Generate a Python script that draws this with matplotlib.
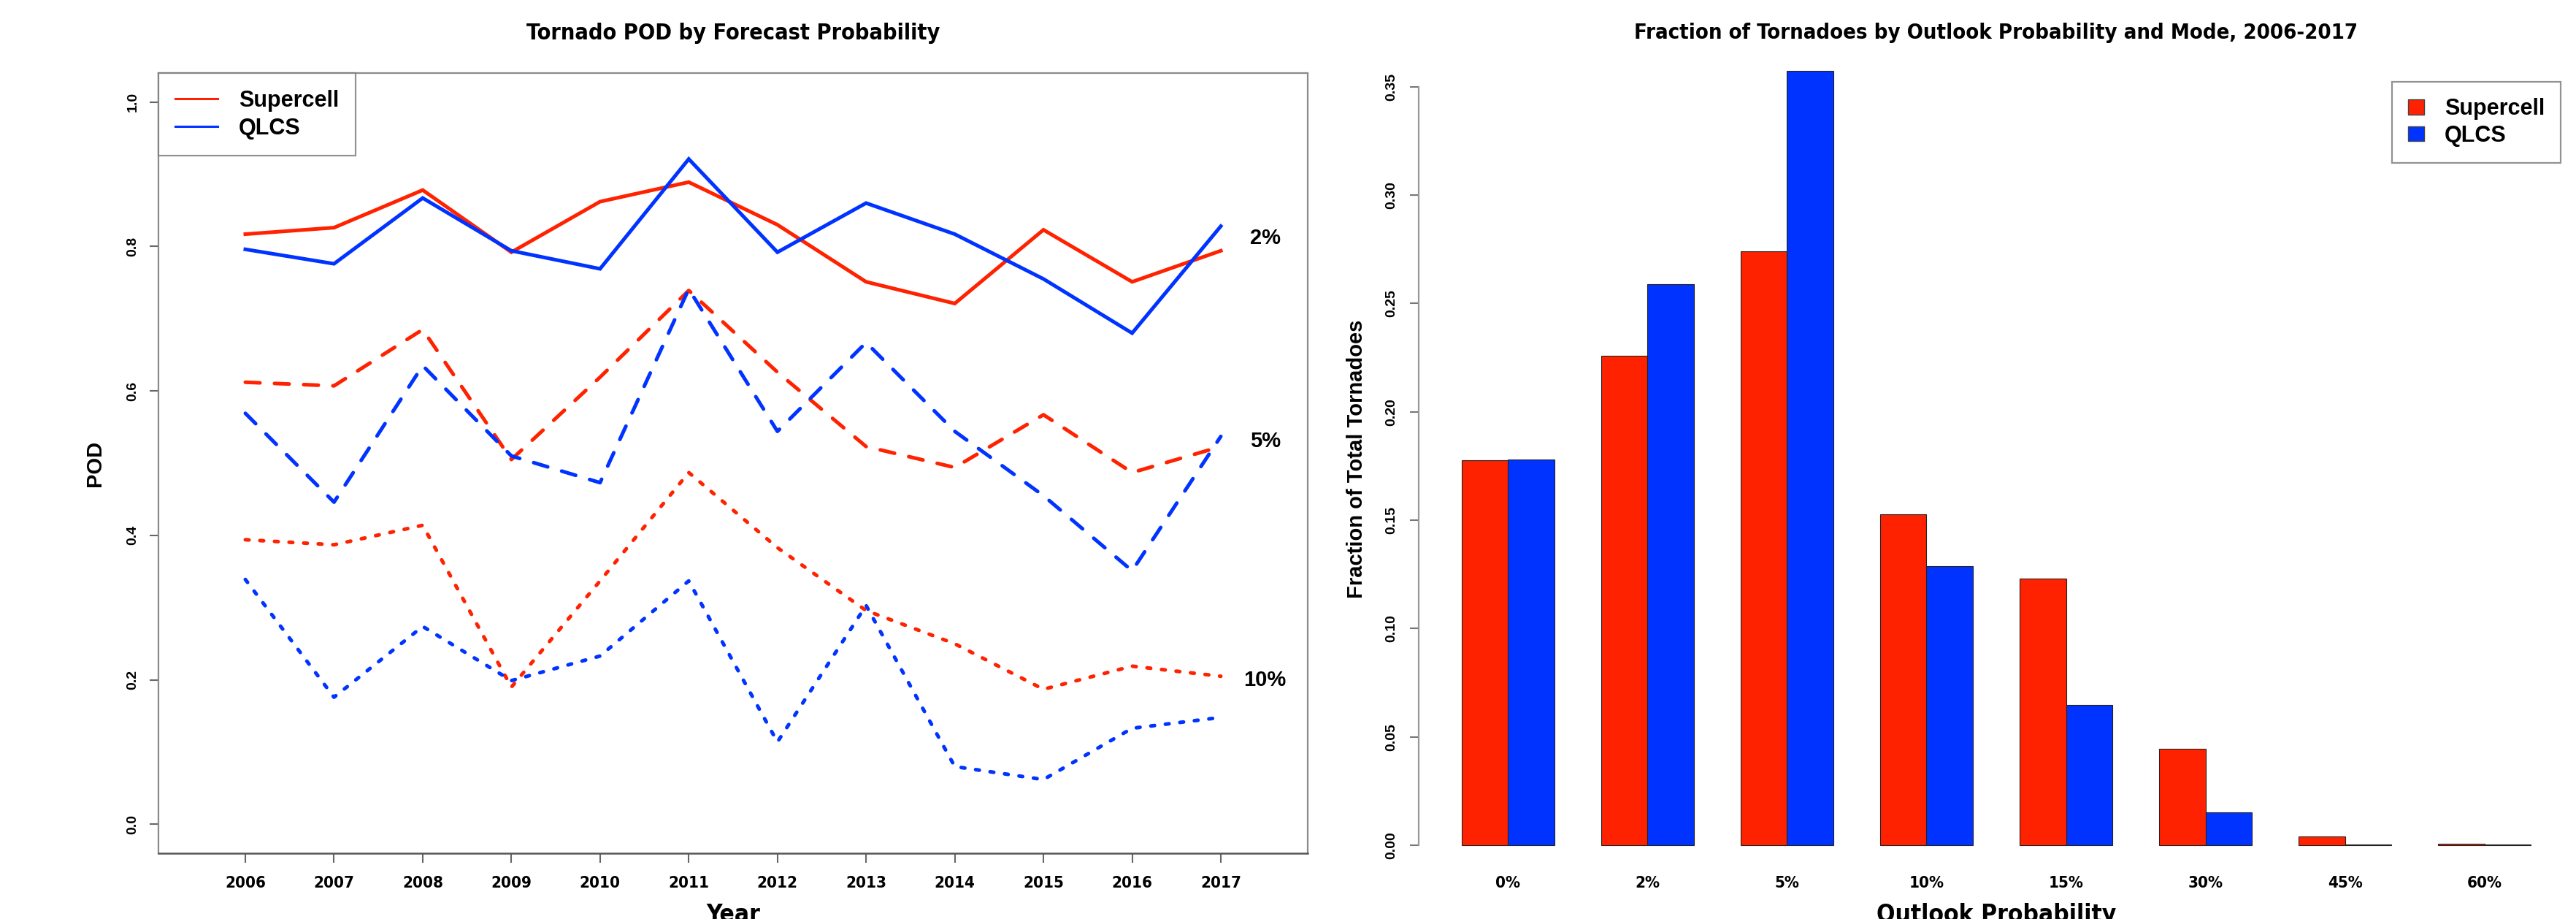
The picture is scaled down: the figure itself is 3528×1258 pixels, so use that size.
import matplotlib.pyplot as plt
import numpy as np
from matplotlib.patches import Patch
from matplotlib.lines import Line2D

# POD per year for the 2%, 5% and 10% forecast contours
years = list(range(2006, 2018))
sup_2 = [0.817, 0.826, 0.878, 0.792, 0.862, 0.889, 0.830, 0.751, 0.721, 0.823, 0.751, 0.794]
qlcs_2 = [0.796, 0.776, 0.867, 0.794, 0.769, 0.921, 0.792, 0.860, 0.817, 0.755, 0.680, 0.828]
sup_5 = [0.612, 0.607, 0.685, 0.505, 0.619, 0.739, 0.626, 0.523, 0.494, 0.567, 0.487, 0.523]
qlcs_5 = [0.569, 0.446, 0.635, 0.510, 0.473, 0.741, 0.544, 0.667, 0.544, 0.455, 0.351, 0.537]
sup_10 = [0.394, 0.387, 0.414, 0.190, 0.337, 0.487, 0.383, 0.296, 0.250, 0.187, 0.219, 0.205]
qlcs_10 = [0.339, 0.176, 0.274, 0.199, 0.233, 0.337, 0.114, 0.303, 0.080, 0.062, 0.133, 0.148]
prob_labels = ['2%', '5%', '10%']

# fraction of tornadoes in each outlook category
outlook = ['0%', '2%', '5%', '10%', '15%', '30%', '45%', '60%']
frac_sup = [0.1776, 0.2260, 0.2740, 0.1527, 0.1229, 0.0444, 0.0041, 0.0008]
frac_qlcs = [0.1778, 0.2588, 0.3572, 0.1287, 0.0648, 0.0151, 0.0003, 0.0002]

RED = '#ff2200'
BLUE = '#0033ff'
WIDE = ['Liberation Sans', 'DejaVu Sans']
# condensed bold for titles and category labels
NARROW = dict(family=['DejaVu Sans'], fontstretch='condensed', fontweight='bold')
LW = 3.6

W, H = 3528, 1258
fig = plt.figure(figsize=(W / 100, H / 100), dpi=100)

def frac_box(x0, x1, ytop, ybot):
    # pixel box -> figure fractions
    return [x0 / W, 1 - ybot / H, (x1 - x0) / W, (ybot - ytop) / H]

# ---- left: POD lines ----
ax = fig.add_axes(frac_box(217, 1791, 100, 1168))
dashes = ['-', (0, (4, 4)), (0, (1, 3))]
series = [(sup_2, qlcs_2), (sup_5, qlcs_5), (sup_10, qlcs_10)]
for (s, q), ls, lab in zip(series, dashes, prob_labels):
    ax.plot(years, s, color=RED, lw=LW, linestyle=ls, dash_capstyle='round',
            solid_joinstyle='miter')
    ax.plot(years, q, color=BLUE, lw=LW, linestyle=ls, dash_capstyle='round',
            solid_joinstyle='miter')
    ylab = (s[-1] + q[-1]) / 2 if lab != '10%' else s[-1] - 0.005
    ax.text(2017.5, ylab, lab, ha='center', va='center', fontsize=21,
            fontweight='bold', family=WIDE)

ax.set_xlim(2005.02, 2017.98)
ax.set_ylim(-0.04, 1.04)
ax.set_xticks(years)
ax.set_xticklabels([str(y) for y in years], fontsize=16, **NARROW)
ax.set_yticks([0, 0.2, 0.4, 0.6, 0.8, 1.0])
ax.set_yticklabels(['0.0', '0.2', '0.4', '0.6', '0.8', '1.0'], fontsize=14,
                   fontweight='bold', family=WIDE, rotation=90, va='center')
ax.tick_params(axis='x', length=9, width=1.5, color='#666666', pad=13)
ax.tick_params(axis='y', length=9, width=1.5, color='#666666', pad=10)
for side in ['top', 'right', 'left']:
    ax.spines[side].set_color('#8a8a8a')
    ax.spines[side].set_linewidth(1.6)
ax.spines['bottom'].set_color('#555555')
ax.spines['bottom'].set_linewidth(1.8)

handles = [Line2D([], [], color=RED, lw=2.2), Line2D([], [], color=BLUE, lw=2.2)]
leg = ax.legend(handles, ['Supercell', 'QLCS'], loc='upper left', bbox_to_anchor=(0, 1),
                borderaxespad=0, fancybox=False, handlelength=1.9, handletextpad=0.95,
                labelspacing=0.25, borderpad=0.75,
                prop={'family': WIDE, 'weight': 'bold', 'size': 22})
leg.get_frame().set_edgecolor('#777777')
leg.get_frame().set_linewidth(1.6)

fig.text(1004 / W, 1 - 45 / H, 'Tornado POD by Forecast Probability', ha='center',
         va='center', fontsize=22, **NARROW)
fig.text(1004 / W, 1 - 1236 / H, 'Year', ha='center', va='top', fontsize=24, **NARROW)
fig.text(130 / W, 1 - 634 / H, 'POD', rotation=90, ha='center', va='center',
         fontsize=21, fontweight='bold', family=WIDE)

# ---- right: grouped bars ----
bx = fig.add_axes(frac_box(1943, 3525, 57, 1199))
n = len(outlook)
grp = np.arange(n) * 3
bx.bar(grp + 1.5, frac_sup, width=1, color=RED, edgecolor='#222222', linewidth=0.8)
bx.bar(grp + 2.5, frac_qlcs, width=1, color=BLUE, edgecolor='#222222', linewidth=0.8)
bx.set_xlim(0.08, 24.92)
bx.set_ylim(-0.0142, 0.3708)
bx.set_xticks(grp + 2)
bx.set_xticklabels(outlook, fontsize=16, **NARROW)
yt = [0, 0.05, 0.10, 0.15, 0.20, 0.25, 0.30, 0.35]
bx.set_yticks(yt)
bx.set_yticklabels(['%.2f' % v for v in yt], fontsize=14, fontweight='bold',
                   family=WIDE, rotation=90, va='center')
bx.tick_params(axis='x', length=0, pad=0)
bx.tick_params(axis='y', length=9, width=1.5, color='#777777', pad=12)
for side in ['top', 'right', 'bottom']:
    bx.spines[side].set_visible(False)
bx.spines['left'].set_bounds(0, 0.35)
bx.spines['left'].set_color('#999999')
bx.spines['left'].set_linewidth(1.6)

handles = [Patch(facecolor=RED, edgecolor='#444444'), Patch(facecolor=BLUE, edgecolor='#444444')]
leg2 = bx.legend(handles, ['Supercell', 'QLCS'], loc='upper right',
                 bbox_to_anchor=((3507 - 1943) / 1582, 1 - (112 - 57) / 1142),
                 borderaxespad=0, fancybox=False, handlelength=0.72, handleheight=0.66,
                 handletextpad=0.92, labelspacing=0.22, borderpad=0.72,
                 prop={'family': WIDE, 'weight': 'bold', 'size': 22})
leg2.get_frame().set_edgecolor('#777777')
leg2.get_frame().set_linewidth(1.6)

fig.text(2734 / W, 1 - 45 / H, 'Fraction of Tornadoes by Outlook Probability and Mode, 2006-2017',
         ha='center', va='center', fontsize=21, **NARROW)
fig.text(2734 / W, 1 - 1236 / H, 'Outlook Probability', ha='center', va='top',
         fontsize=24, **NARROW)
fig.text(1858 / W, 1 - 628 / H, 'Fraction of Total Tornadoes', rotation=90, ha='center',
         va='center', fontsize=21, fontweight='bold', family=WIDE)

fig.savefig('out.png', dpi=100, facecolor='white')
